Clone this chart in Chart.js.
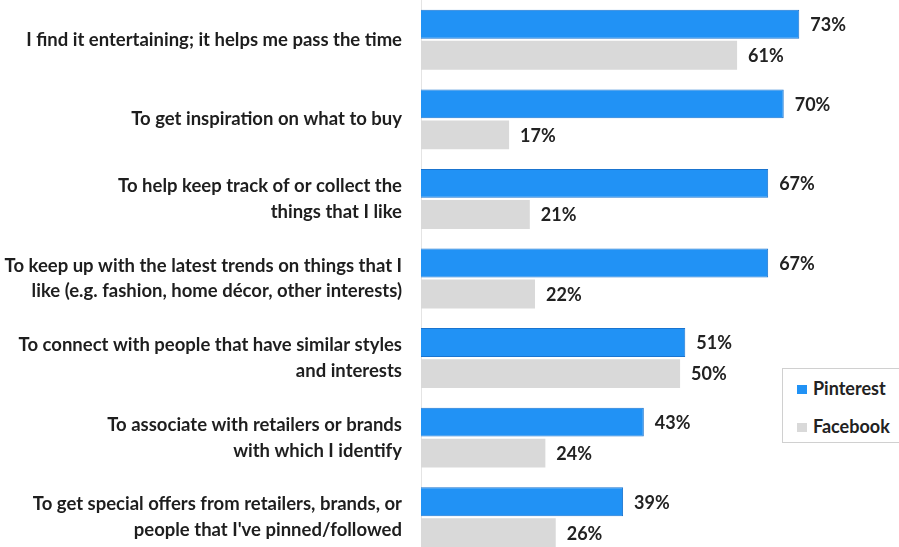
<!DOCTYPE html>
<html>
<head>
<meta charset="utf-8">
<script src="https://cdn.jsdelivr.net/npm/chart.js@4"></script>
<style>
  html, body { margin: 0; padding: 0; background: #fff; overflow: hidden; }
  #wrap { position: relative; width: 899px; height: 557px; }
  #legend {
    position: absolute; left: 782px; top: 368px; width: 130px; height: 75px;
    border: 1px solid #d0d0d0; background: #fff; box-sizing: border-box;
    font-family: Lato, "DejaVu Sans", sans-serif; font-weight: bold; font-size: 18px; color: #222;
  }
  #legend div { position: absolute; left: 14px; line-height: 20px; }
  #legend span { display: inline-block; width: 10px; height: 9px; margin-right: 6px; vertical-align: 1px; }
</style>
</head>
<body>
<div id="wrap">
  <canvas id="chart" width="899" height="557"></canvas>
  <div id="legend"></div>
</div>
<script>
const categories = [
  "I find it entertaining; it helps me pass the time",
  "To get inspiration on what to buy",
  ["To help keep track of or collect the", "things that I like"],
  ["To keep up with the latest trends on things that I", "like (e.g. fashion, home décor, other interests)"],
  ["To connect with people that have similar styles", "and interests"],
  ["To associate with retailers or brands", "with which I identify"],
  ["To get special offers from retailers, brands, or", "people that I've pinned/followed"]
];
const seriesNames = ["Pinterest", "Facebook"];
const pinterest = [73, 70, 67, 67, 51, 43, 39];
const facebook = [61, 17, 21, 22, 50, 24, 26];
const colors = ["#2192f5", "#d9d9d9"];

const fontFam = 'Lato, "DejaVu Sans", sans-serif';

// value labels at the end of each bar
const valueLabels = {
  id: 'valueLabels',
  afterDatasetsDraw(chart) {
    const ctx = chart.ctx;
    ctx.save();
    ctx.font = 'bold 18px ' + fontFam;
    ctx.fillStyle = '#222';
    ctx.textBaseline = 'middle';
    chart.data.datasets.forEach((ds, i) => {
      chart.getDatasetMeta(i).data.forEach((bar, j) => {
        ctx.fillText(ds.data[j] + '%', bar.x + 11, bar.y + 1);
      });
    });
    ctx.restore();
  }
};

new Chart(document.getElementById('chart').getContext('2d'), {
  type: 'bar',
  data: {
    labels: categories,
    datasets: [
      {
        label: seriesNames[0], data: pinterest, backgroundColor: colors[0],
        borderColor: '#1a74cf', borderWidth: 1,
        categoryPercentage: 0.78, barPercentage: 0.93
      },
      {
        label: seriesNames[1], data: facebook, backgroundColor: colors[1],
        borderWidth: 0,
        categoryPercentage: 0.78, barPercentage: 0.93
      }
    ]
  },
  options: {
    indexAxis: 'y',
    responsive: false,
    animation: false,
    layout: { padding: { top: 0, bottom: 0, right: 22, left: 0 } },
    plugins: { legend: { display: false }, tooltip: { enabled: false } },
    scales: {
      x: {
        min: 0, max: 88,
        display: false
      },
      y: {
        afterFit(scale) {
          scale.width = 421;
          scale.paddingTop = 0;
          scale.paddingBottom = 0;
        },
        grid: { display: false },
        border: { display: true, color: '#e4e4e4' },
        ticks: {
          color: '#1e1e1e', padding: 11,
          font: { family: fontFam, size: 18.5, weight: 'bold', lineHeight: 1.4 }
        }
      }
    }
  },
  plugins: [valueLabels]
});

const legend = document.getElementById('legend');
seriesNames.forEach((name, i) => {
  const d = document.createElement('div');
  d.style.top = (i === 0 ? 9 : 47) + 'px';
  d.innerHTML = '<span style="background:' + colors[i] + '"></span>' + name;
  legend.appendChild(d);
});
</script>
</body>
</html>
